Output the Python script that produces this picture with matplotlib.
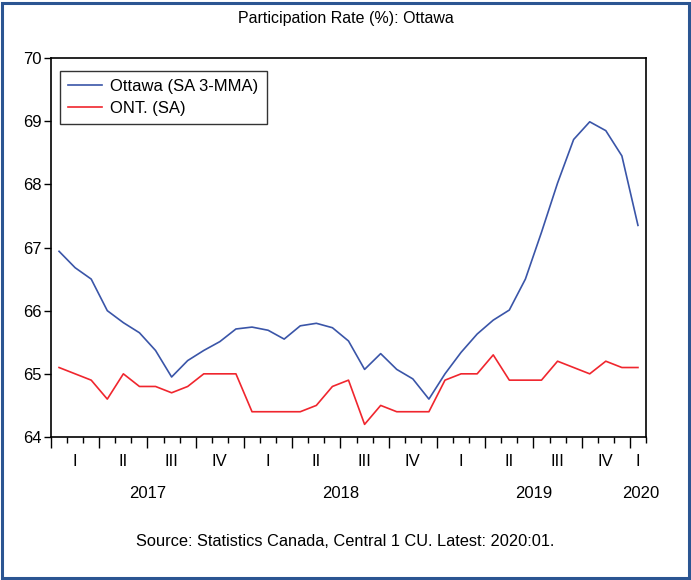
import numpy as np
import matplotlib
matplotlib.use("Agg")
from matplotlib import pyplot as plt
from matplotlib.patches import Rectangle

plt.rcParams['font.family'] = ['Liberation Sans', 'DejaVu Sans']

# monthly, Jan 2017 .. Jan 2020
months = ["2017:%02d" % m for m in range(1, 13)] + \
         ["2018:%02d" % m for m in range(1, 13)] + \
         ["2019:%02d" % m for m in range(1, 13)] + ["2020:01"]

ottawa = [66.94, 66.68, 66.50, 66.00, 65.81, 65.65, 65.37, 64.95, 65.21, 65.37, 65.51, 65.71,
          65.74, 65.69, 65.55, 65.76, 65.80, 65.73, 65.52, 65.07, 65.32, 65.07, 64.92, 64.60,
          65.00, 65.34, 65.63, 65.85, 66.01, 66.50, 67.24, 68.02, 68.71, 68.99, 68.85, 68.45,
          67.35]
ont = [65.1, 65.0, 64.9, 64.6, 65.0, 64.8, 64.8, 64.7, 64.8, 65.0, 65.0, 65.0,
       64.4, 64.4, 64.4, 64.4, 64.5, 64.8, 64.9, 64.2, 64.5, 64.4, 64.4, 64.4,
       64.9, 65.0, 65.0, 65.3, 64.9, 64.9, 64.9, 65.2, 65.1, 65.0, 65.2, 65.1,
       65.1]

quarters = ["I", "II", "III", "IV"]
years = ["2017", "2018", "2019", "2020"]

n = len(months)
x = np.arange(n) + 0.5   # points sit in the middle of each month slot

fig = plt.figure(figsize=(6.91, 5.80), dpi=100)
ax = fig.add_axes([51/691, 1 - 437/580, (646 - 51)/691, (437 - 58)/580])

ax.plot(x, ottawa, color="#3a55a8", lw=1.2, label="Ottawa (SA 3-MMA)")
ax.plot(x, ont, color="#f0262e", lw=1.2, label="ONT. (SA)")

ax.set_xlim(0, n)
ax.set_ylim(64, 70)
ax.set_yticks(range(64, 71))
ax.tick_params(axis="y", direction="out", length=5, width=1, labelsize=12, pad=2)

# month ticks (minor) and quarter ticks (major) at slot boundaries
ax.set_xticks(np.arange(0, n + 1, 3))
ax.set_xticks(np.arange(0, n + 1), minor=True)
ax.set_xticklabels([])
ax.tick_params(axis="x", which="major", direction="out", length=8, width=1)
ax.tick_params(axis="x", which="minor", direction="out", length=4, width=1)

# quarter labels at middle month of each quarter, year labels under them
for i, m in enumerate(months):
    mo = int(m[5:])
    if mo % 3 == 2 or i == n - 1:
        q = quarters[(mo - 1) // 3]
        ax.text(x[i], -0.065, q, transform=ax.get_xaxis_transform(),
                ha="center", va="center", fontsize=12)
for k, yr in enumerate(years):
    idx = [i for i, m in enumerate(months) if m.startswith(yr)]
    xc = (idx[0] + idx[-1] + 1) / 2
    if len(idx) == 1:
        xc += 0.2
    ax.text(xc, -0.15, yr, transform=ax.get_xaxis_transform(),
            ha="center", va="center", fontsize=12)

for s in ax.spines.values():
    s.set_linewidth(1.2)

leg = ax.legend(loc="upper left", bbox_to_anchor=(0.015, 0.966), fontsize=12,
                frameon=True, fancybox=False, edgecolor="black", borderpad=0.5,
                handlelength=2.0, handletextpad=0.5, labelspacing=0.4, borderaxespad=0)
leg.get_frame().set_linewidth(1)

fig.text(0.5, 1 - 18/580, "Participation Rate (%): Ottawa", ha="center", va="center", fontsize=11.5)
fig.text(0.5, 1 - 541/580, "Source: Statistics Canada, Central 1 CU. Latest: 2020:01.",
         ha="center", va="center", fontsize=11.8)

fig.patches.append(Rectangle((0.003, 0.003), 0.994, 0.992, transform=fig.transFigure,
                             fill=False, edgecolor="#2b5592", lw=2.2))

fig.savefig("out.png", dpi=100)
